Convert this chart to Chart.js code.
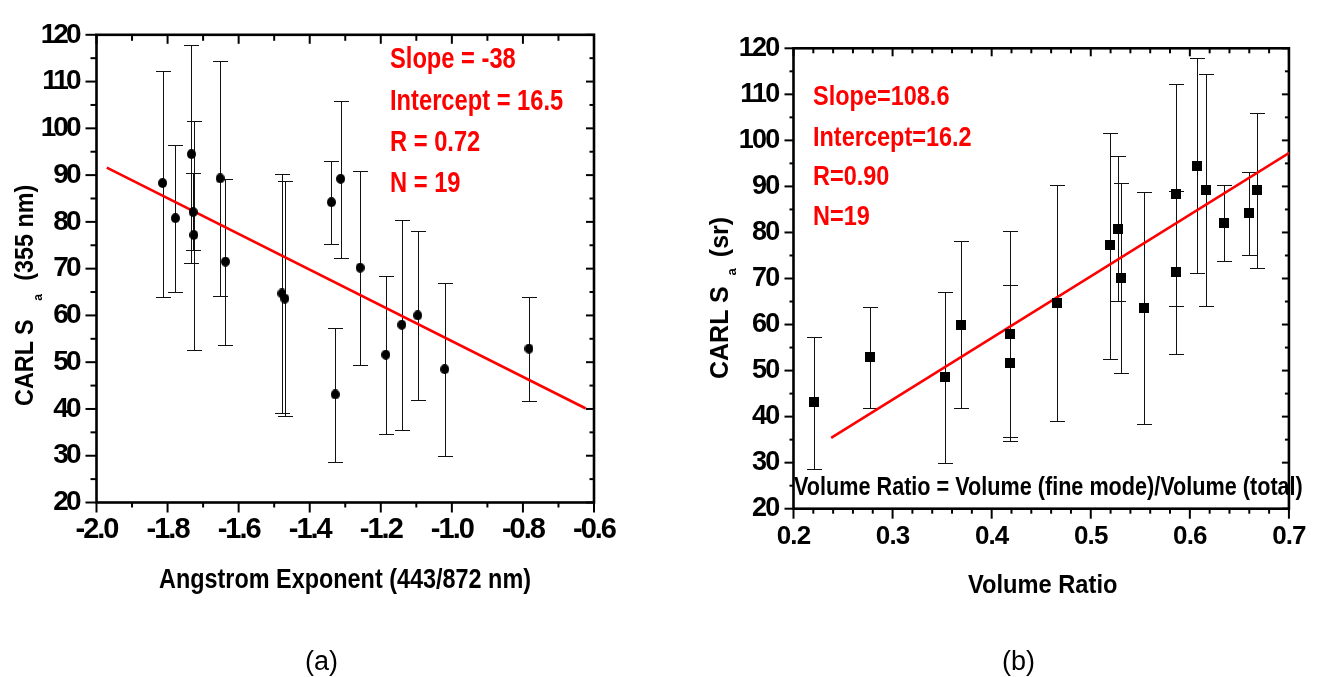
<!DOCTYPE html>
<html>
<head>
<meta charset="utf-8">
<script src="https://cdn.jsdelivr.net/npm/chart.js"></script>
<style>
  html, body { margin: 0; padding: 0; background: #fff; }
  #fig { position: relative; width: 1320px; height: 677px; overflow: hidden;
         font-family: 'Liberation Sans', Arial, sans-serif; }
  canvas { position: absolute; top: 0; }
  #chartA { left: 0; }
  #chartB { left: 660px; }
  .t { position: absolute; white-space: nowrap; transform-origin: 0 0; font-weight: bold; color: #000; }
  .red { color: #ff0000; }
  .sub { position: relative; font-size: 13px; }
  .cap { font-weight: normal; }
</style>
</head>
<body>
<div id="fig">
  <canvas id="chartA" width="660" height="677"></canvas>
  <canvas id="chartB" width="660" height="677"></canvas>

  <!-- panel (a) text -->
  <div class="t red" style="left:390px;top:42.9px;font-size:30px;line-height:30px;transform:scaleX(0.79)">Slope = -38</div>
  <div class="t red" style="left:390px;top:84.6px;font-size:30px;line-height:30px;transform:scaleX(0.79)">Intercept = 16.5</div>
  <div class="t red" style="left:390px;top:126.3px;font-size:30px;line-height:30px;transform:scaleX(0.79)">R = 0.72</div>
  <div class="t red" style="left:390px;top:167.3px;font-size:30px;line-height:30px;transform:scaleX(0.79)">N = 19</div>
  <div class="t" style="left:159px;top:566.4px;font-size:27px;line-height:27px;transform:scaleX(0.867)">Angstrom Exponent (443/872 nm)</div>
  <div class="t" style="left:11.8px;top:406px;font-size:25px;line-height:25px;transform:rotate(-90deg) scaleX(0.935)">CARL S<span class="sub" style="top:9px;margin-left:20px;margin-right:14px">a</span>(355 nm)</div>
  <div class="t cap" style="left:305px;top:648px;font-size:27px;line-height:27px">(a)</div>

  <!-- panel (b) text -->
  <div class="t red" style="left:813px;top:83.1px;font-size:27px;line-height:27px;transform:scaleX(0.87)">Slope=108.6</div>
  <div class="t red" style="left:813px;top:123.8px;font-size:27px;line-height:27px;transform:scaleX(0.87)">Intercept=16.2</div>
  <div class="t red" style="left:813px;top:163.1px;font-size:27px;line-height:27px;transform:scaleX(0.87)">R=0.90</div>
  <div class="t red" style="left:813px;top:202.8px;font-size:27px;line-height:27px;transform:scaleX(0.87)">N=19</div>
  <div class="t" style="left:794px;top:473.8px;font-size:25px;line-height:25px;transform:scaleX(0.865)">Volume Ratio = Volume (fine mode)/Volume (total)</div>
  <div class="t" style="left:968px;top:571.3px;font-size:26px;line-height:26px;transform:scaleX(0.91)">Volume Ratio</div>
  <div class="t" style="left:706.8px;top:379px;font-size:25px;line-height:25px;transform:rotate(-90deg)">CARL S<span class="sub" style="top:8px;margin-left:11px;margin-right:11px">a</span>(sr)</div>
  <div class="t cap" style="left:1002px;top:648px;font-size:27px;line-height:27px">(b)</div>
</div>

<script>
// lidar ratio with its error bar ends, same 19 cases in both panels (two overlap)
const lidarRatio = [88.3, 80.8, 94.5, 82.1, 77.2, 89.3, 71.5, 64.7, 63.6, 84.2, 89.2, 70.2, 43.1, 51.6, 58.0, 60.0, 48.5, 52.9];
const ratioHigh  = [112.3, 96.5, 117.8, 90.4, 101.6, 114.4, 89.1, 90.2, 88.8, 93.1, 105.9, 90.8, 57.3, 68.5, 80.3, 78.1, 67.0, 63.9];
const ratioLow   = [64.0, 65.1, 71.2, 73.9, 52.6, 64.1, 53.6, 39.1, 38.5, 75.2, 72.3, 49.5, 28.6, 34.7, 35.5, 41.9, 29.9, 41.8];
const angstrom   = [-1.814, -1.778, -1.733, -1.728, -1.726, -1.652, -1.637, -1.478, -1.470, -1.339, -1.313, -1.258, -1.328, -1.186, -1.141, -1.096, -1.020, -0.783];
const volRatio   = [0.586, 0.527, 0.607, 0.634, 0.519, 0.616, 0.586, 0.466, 0.554, 0.660, 0.668, 0.531, 0.221, 0.418, 0.418, 0.369, 0.353, 0.277];

// regression lines, end points as drawn
const fitAngX = [-1.971, -0.623];
const fitAngY = [91.6, 40.1];
const fitVolX = [0.238, 0.701];
const fitVolY = [35.4, 97.4];

// axis ranges
const angRange = [-2.0, -0.6];
const volRange = [0.2, 0.7];
const yRange = [20, 120];

const FONT = "'Liberation Sans', Arial, sans-serif";

function marker(w, h, round) {
  const c = document.createElement('canvas');
  c.width = w; c.height = h;
  const g = c.getContext('2d');
  g.fillStyle = '#000';
  if (round) {
    g.beginPath();
    g.ellipse(w / 2, h / 2, w / 2, h / 2, 0, 0, Math.PI * 2);
    g.fill();
  } else {
    g.fillRect(0, 0, w, h);
  }
  return c;
}

// box around the plot plus major/minor tick marks
const framePlugin = {
  id: 'frame',
  beforeDatasetsDraw(chart, args, o) {
    const { ctx, chartArea: a, scales: { x, y } } = chart;
    ctx.save();
    ctx.strokeStyle = '#000';
    ctx.lineWidth = o.tickWidth;
    const seg = (x1, y1, x2, y2) => { ctx.beginPath(); ctx.moveTo(x1, y1); ctx.lineTo(x2, y2); ctx.stroke(); };
    const nx = Math.round((x.max - x.min) / o.xStep);
    for (let i = 0; i <= nx; i++) {
      const px = x.getPixelForValue(x.min + i * o.xStep);
      const major = i % o.xEvery === 0;
      seg(px, a.bottom, px, a.bottom + (major ? o.bottomMajor : o.bottomMinor));
      seg(px, a.top, px, a.top + (major ? o.topMajor : o.topMinor));
    }
    const ny = Math.round((y.max - y.min) / o.yStep);
    for (let i = 0; i <= ny; i++) {
      const py = y.getPixelForValue(y.min + i * o.yStep);
      const major = i % o.yEvery === 0;
      seg(a.left - (major ? o.leftMajor : o.leftMinor), py, a.left, py);
      seg(a.right - (major ? o.rightMajor : o.rightMinor), py, a.right, py);
    }
    ctx.lineWidth = o.width;
    ctx.strokeRect(a.left, a.top, a.right - a.left, a.bottom - a.top);
    ctx.restore();
  }
};

// vertical error bars read from the first dataset
const errorBarPlugin = {
  id: 'errorBars',
  beforeDatasetsDraw(chart, args, o) {
    const { ctx, scales: { x, y } } = chart;
    const ds = chart.data.datasets[0];
    ctx.save();
    ctx.strokeStyle = '#111';
    ctx.lineWidth = 1;
    ds.data.forEach((p, i) => {
      const px = Math.round(x.getPixelForValue(p.x)) + 0.5;
      const hi = Math.round(y.getPixelForValue(ds.yHigh[i])) + 0.5;
      const lo = Math.round(y.getPixelForValue(ds.yLow[i])) + 0.5;
      ctx.beginPath();
      ctx.moveTo(px, hi); ctx.lineTo(px, lo);
      ctx.moveTo(px - o.cap, hi); ctx.lineTo(px + o.cap, hi);
      ctx.moveTo(px - o.cap, lo); ctx.lineTo(px + o.cap, lo);
      ctx.stroke();
    });
    ctx.restore();
  }
};

// tighter tick label spacing, per axis
const spacingPlugin = {
  id: 'labelSpacing',
  beforeDraw(chart, args, o) {
    ['x', 'y'].forEach(k => {
      const s = chart.scales[k];
      if (s._spaced) return;
      const orig = s.drawLabels.bind(s);
      s.drawLabels = function (area) {
        this.ctx.save();
        this.ctx.letterSpacing = o[k] + 'px';
        orig(area);
        this.ctx.restore();
      };
      s._spaced = true;
    });
  }
};

function makeChart(id, xs, fitX, fitY, xRange, cfg) {
  return new Chart(document.getElementById(id), {
    type: 'scatter',
    data: {
      datasets: [
        {
          data: xs.map((v, i) => ({ x: v, y: lidarRatio[i] })),
          yHigh: ratioHigh,
          yLow: ratioLow,
          pointStyle: cfg.marker,
          pointRadius: 5,
        },
        {
          data: fitX.map((v, i) => ({ x: v, y: fitY[i] })),
          showLine: true,
          borderColor: '#ff0000',
          borderWidth: 2.6,
          pointRadius: 0,
          fill: false,
        }
      ]
    },
    options: {
      responsive: false,
      animation: false,
      events: [],
      layout: { padding: cfg.padding },
      plugins: {
        legend: { display: false },
        tooltip: { enabled: false },
        frame: cfg.frame,
        errorBars: { cap: 7.5 },
        labelSpacing: cfg.spacing,
      },
      scales: {
        x: {
          type: 'linear', min: xRange[0], max: xRange[1],
          grid: { display: false, drawTicks: false },
          border: { display: false },
          afterFit: s => { s.height = 60; },
          ticks: {
            stepSize: cfg.xTick, autoSkip: false, maxRotation: 0,
            padding: cfg.xPad, color: '#000',
            font: { family: FONT, size: cfg.xFont, weight: 'bold' },
            callback: v => Number(v).toFixed(1),
          }
        },
        y: {
          min: yRange[0], max: yRange[1],
          grid: { display: false, drawTicks: false },
          border: { display: false },
          afterFit: s => { s.width = cfg.yWidth; },
          ticks: {
            stepSize: 10, autoSkip: false, padding: cfg.yPad, color: '#000',
            font: { family: FONT, size: cfg.yFont, weight: 'bold' },
            callback: v => String(v),
          }
        }
      }
    },
    plugins: [framePlugin, errorBarPlugin, spacingPlugin]
  });
}

makeChart('chartA', angstrom, fitAngX, fitAngY, angRange, {
  marker: marker(9, 10, true),
  padding: { left: 0, top: 25, right: 66, bottom: 114.5 },
  yWidth: 96.5, xTick: 0.2, xPad: 10, yPad: 18, xFont: 29, yFont: 28,
  spacing: { x: -2, y: -3 },
  frame: { width: 2.6, tickWidth: 2, xStep: 0.1, xEvery: 2, yStep: 5, yEvery: 2,
           bottomMajor: 10, bottomMinor: 5, topMajor: 9, topMinor: 6,
           leftMajor: 11, leftMinor: 6, rightMajor: 8, rightMinor: 4.5 },
});

makeChart('chartB', volRatio, fitVolX, fitVolY, volRange, {
  marker: marker(10, 10, false),
  padding: { left: 0, top: 48.3, right: 28, bottom: 108.3 },
  yWidth: 133.5, xTick: 0.1, xPad: 13, yPad: 15, xFont: 26, yFont: 27,
  spacing: { x: -0.9, y: -1.8 },
  frame: { width: 2.6, tickWidth: 2, xStep: 0.02, xEvery: 5, yStep: 5, yEvery: 2,
           bottomMajor: 10, bottomMinor: 5, topMajor: 8, topMinor: 5,
           leftMajor: 9, leftMinor: 4, rightMajor: 7, rightMinor: 4 },
});
</script>
</body>
</html>
